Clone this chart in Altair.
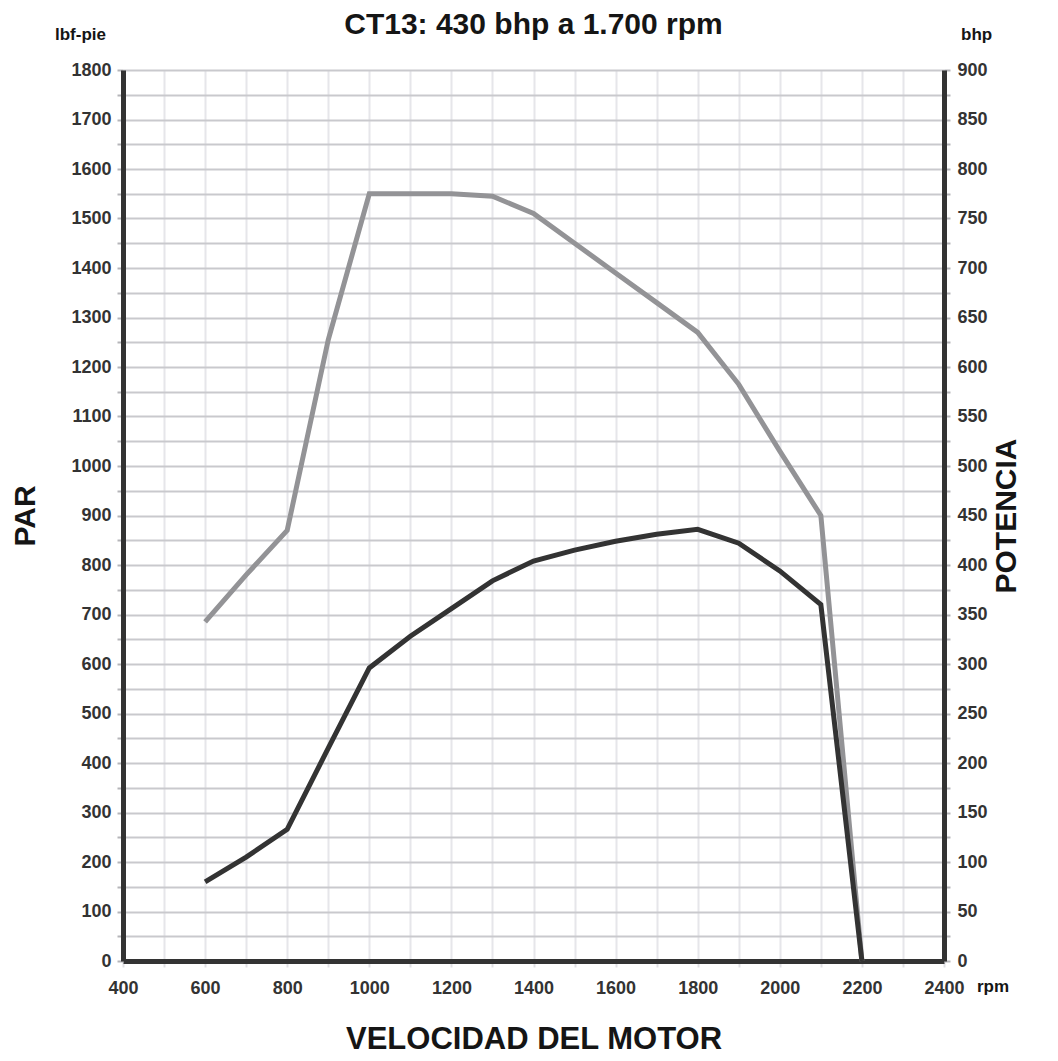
import altair as alt
import pandas as pd

rpm = [600, 700, 800, 900, 1000, 1100, 1200, 1300, 1400, 1500, 1600, 1700, 1800, 1900, 2000, 2100, 2200]
torque_lbft = [685, 780, 870, 1255, 1550, 1550, 1550, 1545, 1510, 1450, 1390, 1330, 1270, 1165, 1030, 900, 0]
power_bhp = [80, 105, 133, 215, 296, 328, 356, 384, 404, 415, 424, 431, 436, 422, 394, 360, 0]

x_ticks = list(range(400, 2401, 100))
y_left_ticks = list(range(0, 1801, 50))
y_right_ticks = list(range(0, 901, 25))

title_text = "CT13: 430 bhp a 1.700 rpm"
x_title = "VELOCIDAD DEL MOTOR"
y_left_title = "PAR"
y_right_title = "POTENCIA"
left_unit = "lbf-pie"
right_unit = "bhp"
x_unit = "rpm"

df = pd.DataFrame({"rpm": rpm, "par": torque_lbft, "potencia": power_bhp})

FONT = "Liberation Sans, Arial, sans-serif"
DARK = "#333333"
BLACK = "#151515"

W, H = 821, 891

x_enc = alt.X(
    "rpm:Q",
    scale=alt.Scale(domain=[400, 2400], nice=False, zero=False),
    axis=alt.Axis(
        values=x_ticks,
        labelExpr="datum.value % 200 == 0 ? format(datum.value, 'd') : ''",
        labelFlush=False,
        title=x_title,
        titleFont=FONT, titleFontSize=31, titleFontWeight="bold", titleColor=BLACK,
        titlePadding=27,
        labelFont=FONT, labelFontSize=18, labelFontWeight="bold", labelColor=DARK,
        labelPadding=12,
        grid=True, gridColor="#e6e6ea", gridWidth=2,
        domain=True, domainColor=DARK, domainWidth=5,
        ticks=True, tickColor="#e0e0e4", tickWidth=2, tickSize=6,
    ),
)

torque = alt.Chart(df).mark_line(color="#939396", strokeWidth=5, strokeJoin="miter").encode(
    x=x_enc,
    y=alt.Y(
        "par:Q",
        scale=alt.Scale(domain=[0, 1800], nice=False),
        axis=alt.Axis(
            orient="left",
            values=y_left_ticks,
            labelExpr="datum.value % 100 == 0 ? format(datum.value, 'd') : ''",
            labelFlush=False,
            title=y_left_title,
            titleFont=FONT, titleFontSize=30, titleFontWeight="bold", titleColor=BLACK,
            titlePadding=30,
            labelFont=FONT, labelFontSize=18, labelFontWeight="bold", labelColor=DARK,
            labelPadding=6,
            grid=True, gridColor="#c9c9cd", gridWidth=2,
            domain=True, domainColor=DARK, domainWidth=5,
            ticks=True, tickColor="#b5b5b9", tickWidth=2, tickSize=6,
        ),
    ),
)

power = alt.Chart(df).mark_line(color=DARK, strokeWidth=5, strokeJoin="miter").encode(
    x=alt.X("rpm:Q", scale=alt.Scale(domain=[400, 2400], nice=False, zero=False)),
    y=alt.Y(
        "potencia:Q",
        scale=alt.Scale(domain=[0, 900], nice=False),
        axis=alt.Axis(
            orient="right",
            values=y_right_ticks,
            labelExpr="datum.value % 50 == 0 ? format(datum.value, 'd') : ''",
            labelFlush=False,
            title=y_right_title,
            titleAngle=270,
            titleFont=FONT, titleFontSize=30, titleFontWeight="bold", titleColor=BLACK,
            titlePadding=34,
            labelFont=FONT, labelFontSize=18, labelFontWeight="bold", labelColor=DARK,
            labelPadding=7,
            grid=False,
            domain=True, domainColor=DARK, domainWidth=5,
            ticks=True, tickColor="#b5b5b9", tickWidth=2, tickSize=6,
        ),
    ),
)


def label(text, align, x, y, size=17):
    return alt.Chart(pd.DataFrame({"t": [text]})).mark_text(
        font=FONT, fontSize=size, fontWeight="bold", color=BLACK, align=align, baseline="middle"
    ).encode(text="t:N", x=alt.value(x), y=alt.value(y))


chart = (
    alt.layer(
        torque,
        power,
        label(left_unit, "right", -17, -35),
        label(right_unit, "left", W + 17, -35),
        label(x_unit, "left", W + 33, H + 26),
        label(title_text, "center", W / 2, -45, size=30),
    )
    .resolve_scale(y="independent")
    .properties(
        width=W,
        height=H,
        padding={"left": 2, "top": 2, "right": 2, "bottom": 0},
    )
    .configure_view(stroke=DARK, strokeWidth=5)
    .configure(background="white")
)

chart.save("out.html", embed_options={"renderer": "svg", "actions": False})
